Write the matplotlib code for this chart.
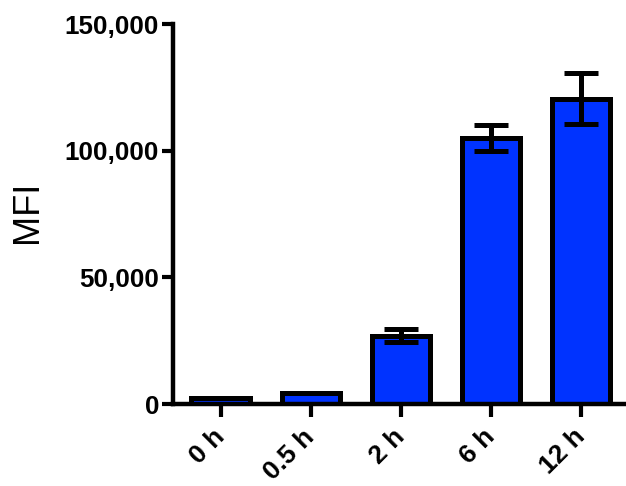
import matplotlib
matplotlib.use("Agg")
import matplotlib.pyplot as plt
from matplotlib.ticker import FuncFormatter

categories = ["0 h", "0.5 h", "2 h", "6 h", "12 h"]
values = [2500, 4500, 27000, 105000, 120500]
errors = [0, 0, 2500, 5000, 10000]
yticks = [0, 50000, 100000, 150000]

plt.rcParams['font.family'] = ['Liberation Sans', 'DejaVu Sans']

fig = plt.figure(figsize=(6.26, 4.86), dpi=100)
ax = fig.add_axes([0.2764, 0.1687, 1.0 - 0.2764, 0.9506 - 0.1687])

x = list(range(len(categories)))
ax.bar(x, values, width=0.65, color='#0033ff', edgecolor='black', linewidth=3.6, zorder=2)
ax.errorbar(x, values, yerr=errors, fmt='none', ecolor='black', elinewidth=3.6,
            capsize=12.5, capthick=3.6, zorder=3)

ax.set_xlim(-0.53, 4.5)
ax.set_ylim(0, 150000)
ax.set_yticks(yticks)
ax.yaxis.set_major_formatter(FuncFormatter(lambda v, p: f"{int(v):,}"))
ax.set_xticks(x)
ax.set_xticklabels(categories, rotation=45, ha='right', va='center', rotation_mode='anchor')

for s in ['top', 'right']:
    ax.spines[s].set_visible(False)
for s in ['left', 'bottom']:
    ax.spines[s].set_linewidth(3.2)
ax.tick_params(axis='both', width=3.0, length=8, direction='out', labelsize=18.7, pad=2)
ax.tick_params(axis='x', length=9, pad=12, labelsize=19)
for lab in ax.get_xticklabels() + ax.get_yticklabels():
    lab.set_fontweight('bold')

fig.text(28 / 626, 1 - 212 / 486, "MFI", fontsize=26, rotation=90, ha='center', va='center')

fig.savefig("out.png", dpi=100)
